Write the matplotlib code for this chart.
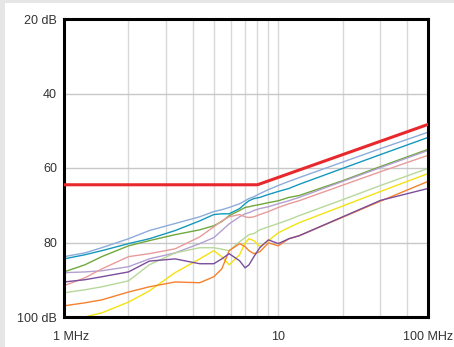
import numpy as np
import matplotlib
matplotlib.use("Agg")
import matplotlib.pyplot as plt
import matplotlib.transforms as mtransforms
from matplotlib.patches import Rectangle

# frequency points (MHz) shared by all measured curves
freq_mhz = [1, 1.25, 1.5, 2, 2.5, 3.3, 4.3, 5, 5.45, 5.9, 6.6, 7, 7.3, 7.7,
            8.2, 9, 10, 11.2, 12.5, 20, 30, 50]

# measured levels in dB, one list per curve
light_blue = [83.8, 82.8, 81.4, 79.0, 76.8, 74.9, 73.1, 71.7, 71.2, 70.6, 69.6,
              68.8, 68.2, 67.7, 66.9, 65.8, 64.7, 63.6, 62.6, 58.4, 54.8, 50.4]
teal = [84.4, 83.3, 82.2, 80.3, 79.0, 76.8, 74.2, 72.5, 72.3, 72.3, 70.9,
        69.6, 68.8, 68.2, 67.9, 67.1, 66.3, 65.5, 64.4, 60.1, 56.4, 51.8]
green = [87.9, 86.0, 83.8, 80.9, 79.5, 77.9, 76.6, 75.5, 74.4, 72.8, 71.4,
         70.6, 70.4, 70.1, 69.8, 69.3, 68.8, 67.9, 67.4, 63.4, 59.6, 55.0]
lavender = [88.1, 87.9, 87.6, 86.5, 84.4, 82.8, 80.3, 78.7, 76.8, 75.0, 73.1,
            72.3, 72.0, 71.4, 70.9, 70.4, 69.6, 68.8, 67.9, 63.6, 59.9, 55.3]
pink = [91.6, 89.5, 87.1, 83.8, 83.0, 81.7, 78.5, 75.8, 74.2, 73.1, 72.5,
        73.1, 73.3, 73.1, 72.5, 71.7, 70.6, 69.6, 68.8, 64.6, 61.0, 56.6]
light_green = [93.5, 92.7, 91.9, 90.3, 86.0, 82.8, 81.4, 81.4, 81.8, 82.2, 79.8,
               78.7, 77.9, 77.6, 76.6, 75.8, 74.9, 73.9, 72.8, 68.5, 64.7, 60.1]
purple = [90.6, 90.0, 89.2, 87.9, 85.0, 84.4, 85.7, 85.7, 84.4, 83.0, 84.9,
          86.8, 86.0, 83.8, 81.4, 79.3, 80.3, 79.0, 78.2, 73.1, 68.7, 65.5]
orange = [97.0, 96.2, 95.4, 93.3, 91.9, 90.6, 90.8, 89.2, 87.1, 82.2, 80.3,
          81.1, 82.2, 83.0, 82.5, 80.1, 80.9, 79.0, 78.2, 73.2, 68.9, 63.6]
yellow = [101.5, 100.0, 98.9, 96.0, 93.0, 88.1, 84.4, 82.2, 83.8, 86.0, 83.3,
          80.1, 79.0, 79.5, 81.1, 79.5, 77.4, 76.0, 74.7, 70.2, 66.3, 61.5]

# limit line
limit_freq = [1, 8, 50]
limit_db = [64.5, 64.5, 48.3]

y_ticks = [20, 40, 60, 80, 100]
y_labels = ["20 dB", "40", "60", "80", "100 dB"]
x_ticks = [1, 10, 50]
x_labels = ["1 MHz", "10", "100 MHz"]

curves = [
    (light_blue, "#8eabdb"),
    (teal, "#1498be"),
    (green, "#6fa83c"),
    (lavender, "#b3a0d2"),
    (pink, "#e99b9b"),
    (light_green, "#b7d89b"),
    (yellow, "#f3e212"),
    (orange, "#f5812c"),
    (purple, "#7b4d9c"),
]


def main():
    plt.rcParams['font.family'] = ['Liberation Sans', 'DejaVu Sans']
    fig = plt.figure(figsize=(4.54, 3.47), dpi=100, facecolor="#e6e6e6")
    # white panel, leaving a thin grey band on the top and left
    panel = Rectangle((5 / 454, 0), 1, (347 - 3) / 347,
                      transform=fig.transFigure, facecolor="white",
                      edgecolor="none", zorder=-10)
    fig.add_artist(panel)
    ax = fig.add_axes([64 / 454, 30 / 347, 364 / 454, 298 / 347])
    ax.set_zorder(1)
    ax.set_xscale("log")
    ax.set_xlim(1, 50)
    ax.set_ylim(100, 20)

    # grid
    minor = [2, 3, 4, 5, 6, 7, 8, 9, 10, 20, 30, 40]
    for f in minor:
        ax.axvline(f, color="#d9d9d9", lw=1.0, zorder=1)
    for d in [40, 60, 80]:
        ax.axhline(d, color="#c8c8c8", lw=1.0, zorder=1)

    for values, col in curves:
        ax.plot(freq_mhz, values, color=col, lw=1.0, zorder=2)
    ax.plot(limit_freq, limit_db, color="#e8282c", lw=2.2, zorder=3)

    ax.set_yticks(y_ticks)
    ax.set_yticklabels(y_labels)
    ax.set_xticks(x_ticks)
    ax.set_xticklabels(x_labels)
    ax.xaxis.set_minor_locator(matplotlib.ticker.NullLocator())
    ax.tick_params(axis="both", length=0, labelsize=9, colors="#333333")
    ax.tick_params(axis="y", pad=5)
    ax.tick_params(axis="x", pad=10)

    # first x label sits a bit right of its tick in the reference
    shift = mtransforms.ScaledTranslation(7 / 100, 0, fig.dpi_scale_trans)
    lab = ax.get_xticklabels()[0]
    lab.set_transform(lab.get_transform() + shift)

    for s in ax.spines.values():
        s.set_linewidth(2.2)
        s.set_color("black")

    fig.savefig("out.png", dpi=100, facecolor=fig.get_facecolor())


if __name__ == "__main__":
    main()
